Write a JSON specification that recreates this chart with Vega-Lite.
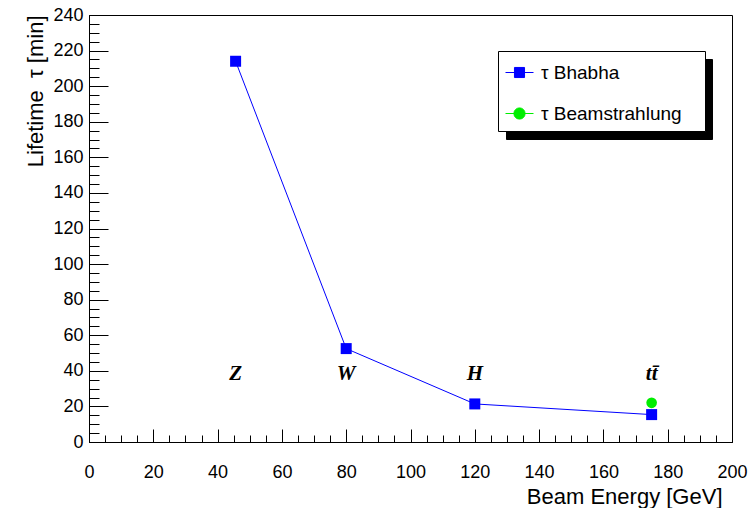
{
  "$schema": "https://vega.github.io/schema/vega-lite/v6.json",
  "width": 643,
  "height": 427,
  "autosize": "none",
  "padding": {"left": 89, "top": 15, "right": 21, "bottom": 66},
  "background": "white",
  "config": {
    "font": "Liberation Sans",
    "view": {"stroke": "black", "strokeWidth": 1},
    "axis": {
      "grid": false,
      "domainColor": "black",
      "tickColor": "black",
      "labelColor": "black",
      "titleColor": "black",
      "labelFont": "Liberation Sans",
      "titleFont": "Liberation Sans",
      "titleFontWeight": "normal",
      "labelFontSize": 18,
      "titleFontSize": 22,
      "labelOverlap": false,
      "labelFlush": false
    }
  },
  "resolve": {"axis": {"x": "independent", "y": "independent"}},
  "datasets": {
    "pts": [
      {"E": 45.6, "tau": 214, "series": "τ Bhabha"},
      {"E": 80, "tau": 52.5, "series": "τ Bhabha"},
      {"E": 120, "tau": 21.4, "series": "τ Bhabha"},
      {"E": 175, "tau": 15.4, "series": "τ Bhabha"},
      {"E": 175, "tau": 22, "series": "τ Beamstrahlung"}
    ],
    "labels": [
      {"E": 45.6, "tau": 35, "label": "Z"},
      {"E": 80, "tau": 35, "label": "W"},
      {"E": 120, "tau": 35, "label": "H"},
      {"E": 175, "tau": 35, "label": "tt̄"}
    ]
  },
  "layer": [
    {
      "data": {"name": "pts"},
      "transform": [{"filter": "datum.series === 'τ Bhabha'"}],
      "mark": {"type": "line", "strokeWidth": 1},
      "encoding": {
        "x": {
          "field": "E", "type": "quantitative",
          "scale": {"domain": [0, 200], "nice": false, "zero": false},
          "axis": {
            "orient": "bottom",
            "title": "Beam Energy [GeV]",
            "values": [0, 20, 40, 60, 80, 100, 120, 140, 160, 180, 200],
            "tickSize": -13,
            "labelPadding": 34,
            "labelOverlap": false,
            "titleX": 633,
            "titleY": 61,
            "titleAlign": "right",
            "titleBaseline": "alphabetic",
            "titleAnchor": "end"
          }
        },
        "y": {
          "field": "tau", "type": "quantitative",
          "scale": {"domain": [0, 240], "nice": false},
          "axis": {
            "orient": "left",
            "title": "Lifetime\u00a0\u00a0τ [min]",
            "values": [0, 20, 40, 60, 80, 100, 120, 140, 160, 180, 200, 220, 240],
            "tickSize": -19,
            "labelPadding": 25,
            "labelOverlap": false,
            "titleX": -47,
            "titleY": 0,
            "titleAngle": -90,
            "titleAlign": "right",
            "titleBaseline": "alphabetic",
            "titleAnchor": "end"
          }
        },
        "color": {
          "field": "series", "type": "nominal",
          "scale": {"domain": ["τ Bhabha", "τ Beamstrahlung"], "range": ["#0000ff", "#00ee00"]},
          "legend": {
            "title": null,
            "orient": "none",
            "legendX": 409,
            "legendY": 36,
            "padding": 7,
            "fillColor": "white",
            "strokeColor": "black",
            "labelFont": "Liberation Sans",
            "labelFontSize": 19,
            "labelColor": "black",
            "labelOffset": 7,
            "labelLimit": 400,
            "rowPadding": 16,
            "symbolSize": 784,
            "symbolType": "M-1,0H1M-0.36,-0.36H0.36V0.36H-0.36Z",
            "symbolStrokeWidth": 1,
            "labelExpr": "datum.label + '\u00a0\u00a0\u00a0\u200b'",
            "zindex": 2,
            "encoding": {
              "symbols": {
                "shape": {"condition": {"test": "datum.value === 'τ Bhabha'", "value": "M-1,0H1M-0.36,-0.36H0.36V0.36H-0.36Z"}, "value": "M-1,0H1M-0.4,0A0.4,0.4,0,1,1,0.4,0A0.4,0.4,0,1,1,-0.4,0Z"},
                "fill": {"condition": {"test": "datum.value === 'τ Bhabha'", "value": "#0000ff"}, "value": "#00ee00"},
                "stroke": {"condition": {"test": "datum.value === 'τ Bhabha'", "value": "#0000ff"}, "value": "#00ee00"}
              }
            }
          }
        },
        "opacity": {
          "field": "series", "type": "nominal",
          "scale": {"domain": ["τ Beamstrahlung", "τ Bhabha"], "range": [1, 1]},
          "legend": {
            "title": null,
            "orient": "none",
            "legendX": 417,
            "legendY": 44,
            "padding": 7,
            "fillColor": "black",
            "strokeColor": "black",
            "labelFontSize": 19,
            "labelColor": "black",
            "labelOffset": 163,
            "rowPadding": 16,
            "symbolSize": 784,
            "symbolType": "M-1,0H1M-0.36,-0.36H0.36V0.36H-0.36Z",
            "symbolStrokeWidth": 1,
            "symbolFillColor": "black",
            "symbolStrokeColor": "black",
            "labelExpr": "''",
            "zindex": 1
          }
        }
      }
    },
    {
      "data": {"name": "pts"},
      "transform": [{"filter": "datum.series === 'τ Bhabha'"}],
      "mark": {"type": "point", "shape": "square", "filled": true, "size": 121, "opacity": 1},
      "encoding": {
        "x": {"field": "E", "type": "quantitative", "axis": null},
        "y": {"field": "tau", "type": "quantitative", "axis": null},
        "color": {"field": "series", "type": "nominal", "legend": null}
      }
    },
    {
      "data": {"name": "pts"},
      "transform": [{"filter": "datum.series === 'τ Beamstrahlung'"}],
      "mark": {"type": "point", "shape": "circle", "filled": true, "size": 113, "opacity": 1},
      "encoding": {
        "x": {"field": "E", "type": "quantitative", "axis": null},
        "y": {"field": "tau", "type": "quantitative", "axis": null},
        "color": {"field": "series", "type": "nominal", "legend": null}
      }
    },
    {
      "data": {"name": "labels"},
      "mark": {"type": "text", "font": "Liberation Serif", "fontStyle": "italic", "fontWeight": "bold", "fontSize": 21, "align": "center", "baseline": "alphabetic", "color": "black"},
      "encoding": {
        "x": {
          "field": "E", "type": "quantitative",
          "axis": {
            "orient": "bottom",
            "title": null,
            "labels": false,
            "domain": false,
            "values": [0,5,10,15,20,25,30,35,40,45,50,55,60,65,70,75,80,85,90,95,100,105,110,115,120,125,130,135,140,145,150,155,160,165,170,175,180,185,190,195,200],
            "tickSize": -7
          }
        },
        "y": {
          "field": "tau", "type": "quantitative",
          "axis": {
            "orient": "left",
            "title": null,
            "labels": false,
            "domain": false,
            "values": [0,5,10,15,20,25,30,35,40,45,50,55,60,65,70,75,80,85,90,95,100,105,110,115,120,125,130,135,140,145,150,155,160,165,170,175,180,185,190,195,200,205,210,215,220,225,230,235,240],
            "tickSize": -10
          }
        },
        "text": {"field": "label"}
      }
    }
  ]
}
